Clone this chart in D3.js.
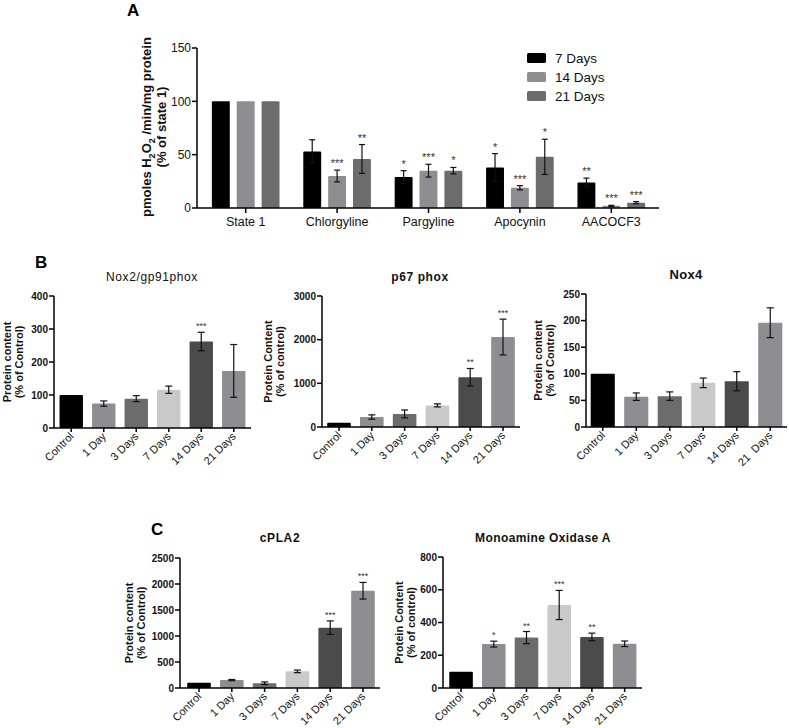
<!DOCTYPE html>
<html><head><meta charset="utf-8">
<script src="https://d3js.org/d3.v7.min.js"></script>
<style>
body{margin:0;background:#fff;}
svg{display:block;font-family:"Liberation Sans",Arial,sans-serif;}
</style></head>
<body>
<svg id="fig" width="789" height="728"></svg>
<script>
// ---------- Panel A data ----------
const aCategories = ["State 1","Chlorgyline","Pargyline","Apocynin","AACOCF3"];
const aSeries = ["7 Days","14 Days","21 Days"];
const aValues7  = [100,53,29,38,24];
const aErr7     = [0,11,6,13,4];
const aValues14 = [100,30,35,19,2];
const aErr14    = [0,5.5,6,2,0.5];
const aValues21 = [100,46,35,48,5];
const aErr21    = [0,13.5,3,16.5,1];
const aStars7   = ["","","*","*","**"];
const aStars14  = ["","***","***","***","***"];
const aStars21  = ["","**","*","*","***"];
const aTicks = [0,50,100,150];
const aColors = ["#000000","#8e8e92","#6c6c6c"];

// ---------- Panels B & C data ----------
const timeCategories = ["Control","1 Day","3 Days","7 Days","14 Days","21 Days"];
const nox4Categories = ["Control","1 Day","3 Days","7 Days","14 Days","21  Days"];
const timeColors = ["#000000","#8e8e92","#6c6c6c","#c9c9c9","#4b4b4b","#8e8e92"];

const nox2Values = [100,74,89,116,262,173];
const nox2Err    = [0,8,9,11,28,80];
const nox2Stars  = ["","","","","***",""];
const nox2Ticks  = [0,100,200,300,400];

const p67Values = [100,228,300,495,1140,2060];
const p67Err    = [0,50,90,35,200,410];
const p67Stars  = ["","","","","**","***"];
const p67Ticks  = [0,1000,2000,3000];

const nox4Values = [100,57,58,83,86,196];
const nox4Err    = [0,7,8,9,18,28];
const nox4Stars  = ["","","","","",""];
const nox4Ticks  = [0,50,100,150,200,250];

const cpla2Values = [100,152,92,320,1160,1870];
const cpla2Err    = [0,12,25,25,130,160];
const cpla2Stars  = ["","","","","***","***"];
const cpla2Ticks  = [0,500,1000,1500,2000,2500];

const maoValues = [100,268,308,507,312,270];
const maoErr    = [0,18,37,89,23,17];
const maoStars  = ["","*","**","***","**",""];
const maoTicks  = [0,200,400,600,800];

const svg = d3.select("#fig");

// ---------- helpers ----------
function errorBar(g, cx, y, v, e, cap){
  if(e<=0) return;
  g.append("line").attr("x1",cx).attr("x2",cx).attr("y1",y(v+e)).attr("y2",y(Math.max(0,v-e)))
    .attr("stroke","#111").attr("stroke-width",1.2);
  [v+e, Math.max(0,v-e)].forEach(t=>{
    g.append("line").attr("x1",cx-cap).attr("x2",cx+cap).attr("y1",y(t)).attr("y2",y(t))
      .attr("stroke","#111").attr("stroke-width",1.2);
  });
}
function star(g, cx, yy, s, fs){
  if(!s) return;
  g.append("text").attr("x",cx).attr("y",yy).attr("text-anchor","middle")
    .attr("font-size",fs).attr("fill","#333").text(s);
}
function yAxis(g, y, x0, ticks, fs, bold){
  g.append("line").attr("x1",x0).attr("x2",x0).attr("y1",y(0)).attr("y2",y(ticks[ticks.length-1]))
    .attr("stroke","#000").attr("stroke-width",1.5);
  ticks.forEach(t=>{
    g.append("line").attr("x1",x0-5).attr("x2",x0).attr("y1",y(t)).attr("y2",y(t))
      .attr("stroke","#000").attr("stroke-width",1.5);
    g.append("text").attr("x",x0-6).attr("y",y(t)).attr("dy","0.35em").attr("text-anchor","end")
      .attr("font-size",fs).attr("font-weight",bold?"bold":"normal").attr("fill","#111").text(t);
  });
}

// ---------- time-course panel ----------
function timePanel(cfg){
  const g = svg.append("g");
  const y = d3.scaleLinear().domain([0,cfg.ticks[cfg.ticks.length-1]]).range([cfg.y0,cfg.y1]);
  const x = d3.scaleBand().domain(cfg.cats).range([cfg.bx0,cfg.bx1]).paddingInner(0.28).paddingOuter(0.14);
  cfg.values.forEach((v,i)=>{
    const c = cfg.cats[i];
    g.append("rect").attr("x",x(c)).attr("y",y(v)).attr("width",x.bandwidth()).attr("height",y(0)-y(v))
      .attr("fill",timeColors[i]).attr("rx",1);
  });
  cfg.values.forEach((v,i)=>{
    const cx = x(cfg.cats[i])+x.bandwidth()/2;
    errorBar(g,cx,y,v,cfg.err[i],3.5);
    star(g,cx,y(v+cfg.err[i])-3,cfg.stars[i],9);
  });
  // x axis
  g.append("line").attr("x1",cfg.ax0).attr("x2",cfg.ax1).attr("y1",y(0)).attr("y2",y(0))
    .attr("stroke","#000").attr("stroke-width",1.5);
  cfg.cats.forEach(c=>{
    const cx = x(c)+x.bandwidth()/2;
    g.append("line").attr("x1",cx).attr("x2",cx).attr("y1",y(0)).attr("y2",y(0)+4)
      .attr("stroke","#000").attr("stroke-width",1.5);
    g.append("text").attr("transform",`translate(${cx+3},${y(0)+9}) rotate(-45)`)
      .attr("text-anchor","end").attr("font-size",11).attr("fill","#111")
      .style("white-space","pre").text(c);
  });
  yAxis(g,y,cfg.ax0,cfg.ticks,10,true);
  // title
  g.append("text").attr("x",cfg.tx).attr("y",cfg.ty).attr("text-anchor","middle")
    .attr("font-size",cfg.tfs).attr("font-weight",cfg.tbold?"bold":"normal")
    .attr("letter-spacing",cfg.tls||0).attr("fill","#111").text(cfg.title);
  // y label
  const ly = (cfg.y0+cfg.y1)/2;
  g.append("text").attr("transform",`translate(${cfg.lx},${ly}) rotate(-90)`)
    .attr("text-anchor","middle").attr("font-size",11).attr("font-weight","bold").attr("fill","#111")
    .text(cfg.ylab1);
  g.append("text").attr("transform",`translate(${cfg.lx+12},${ly}) rotate(-90)`)
    .attr("text-anchor","middle").attr("font-size",11).attr("font-weight","bold").attr("fill","#111")
    .text(cfg.ylab2);
}

// ---------- Panel A ----------
(function(){
  const g = svg.append("g");
  const y = d3.scaleLinear().domain([0,150]).range([208,48]);
  const x0 = d3.scaleBand().domain(aCategories).range([200,657]).paddingInner(0.26).paddingOuter(0.13);
  const x1 = d3.scaleBand().domain(aSeries).range([0,x0.bandwidth()]).paddingInner(0.28);
  const vals = [aValues7,aValues14,aValues21];
  const errs = [aErr7,aErr14,aErr21];
  const stars = [aStars7,aStars14,aStars21];
  aCategories.forEach((c,i)=>{
    aSeries.forEach((s,j)=>{
      const v = vals[j][i];
      g.append("rect").attr("x",x0(c)+x1(s)).attr("y",y(v)).attr("width",x1.bandwidth())
        .attr("height",y(0)-y(v)).attr("fill",aColors[j]).attr("rx",1);
    });
  });
  aCategories.forEach((c,i)=>{
    aSeries.forEach((s,j)=>{
      const v = vals[j][i], e = errs[j][i];
      const cx = x0(c)+x1(s)+x1.bandwidth()/2;
      errorBar(g,cx,y,v,e,3);
      star(g,cx,y(v+e)-3,stars[j][i],11);
    });
  });
  g.append("line").attr("x1",197).attr("x2",659).attr("y1",y(0)).attr("y2",y(0))
    .attr("stroke","#000").attr("stroke-width",1.5);
  aCategories.forEach(c=>{
    const cx = x0(c)+x0.bandwidth()/2;
    g.append("line").attr("x1",cx).attr("x2",cx).attr("y1",y(0)).attr("y2",y(0)+5)
      .attr("stroke","#000").attr("stroke-width",1.5);
    g.append("text").attr("x",cx).attr("y",y(0)+18).attr("text-anchor","middle")
      .attr("font-size",12.5).attr("fill","#111").text(c);
  });
  yAxis(g,y,197,aTicks,12,false);
  // y label
  const t1 = g.append("text").attr("transform","translate(151,127) rotate(-90)")
    .attr("text-anchor","middle").attr("font-size",13).attr("font-weight","bold").attr("fill","#111");
  t1.append("tspan").text("pmoles H");
  t1.append("tspan").attr("font-size",9).attr("dy",4).text("2");
  t1.append("tspan").attr("dy",-4).text("O");
  t1.append("tspan").attr("font-size",9).attr("dy",4).text("2");
  t1.append("tspan").attr("dy",-4).text(" /min/mg protein");
  g.append("text").attr("transform","translate(166,127) rotate(-90)")
    .attr("text-anchor","middle").attr("font-size",13).attr("font-weight","bold").attr("fill","#111")
    .text("(% of state 1)");
  // legend
  aSeries.forEach((s,j)=>{
    const ly = 58 + j*19;
    g.append("rect").attr("x",527).attr("y",ly-5).attr("width",19).attr("height",10)
      .attr("fill",aColors[j]).attr("rx",1.5);
    g.append("text").attr("x",555).attr("y",ly).attr("dy","0.35em").attr("font-size",13.5)
      .attr("fill","#111").text(s);
  });
  g.append("text").attr("x",127).attr("y",16).attr("font-size",17).attr("font-weight","bold").text("A");
})();

// ---------- Panel B ----------
svg.append("text").attr("x",35).attr("y",268).attr("font-size",17).attr("font-weight","bold").text("B");
timePanel({cats:timeCategories,values:nox2Values,err:nox2Err,stars:nox2Stars,ticks:nox2Ticks,
  y0:428,y1:296,ax0:54,ax1:251,bx0:55,bx1:250,title:"Nox2/gp91phox",tx:152,ty:281,tfs:12,tbold:false,tls:0.6,
  lx:11,ylab1:"Protein content",ylab2:"(% of Control)"});
timePanel({cats:timeCategories,values:p67Values,err:p67Err,stars:p67Stars,ticks:p67Ticks,
  y0:427,y1:296,ax0:322,ax1:520,bx0:322.6,bx1:519.4,title:"p67 phox",tx:420,ty:281,tfs:12,tbold:true,tls:0.6,
  lx:272,ylab1:"Protein Content",ylab2:"(% of control)"});
timePanel({cats:nox4Categories,values:nox4Values,err:nox4Err,stars:nox4Stars,ticks:nox4Ticks,
  y0:427,y1:294,ax0:586,ax1:787,bx0:586,bx1:787,title:"Nox4",tx:686,ty:279,tfs:13,tbold:true,tls:0.3,
  lx:542,ylab1:"Protein content",ylab2:"(% of Control)"});

// ---------- Panel C ----------
svg.append("text").attr("x",151).attr("y",535).attr("font-size",17).attr("font-weight","bold").text("C");
timePanel({cats:timeCategories,values:cpla2Values,err:cpla2Err,stars:cpla2Stars,ticks:cpla2Ticks,
  y0:688,y1:558,ax0:180,ax1:380,bx0:182.6,bx1:379.4,title:"cPLA2",tx:280,ty:542,tfs:12,tbold:true,tls:0.6,
  lx:133,ylab1:"Protein content",ylab2:"(% of Control)"});
timePanel({cats:timeCategories,values:maoValues,err:maoErr,stars:maoStars,ticks:maoTicks,
  y0:688,y1:557,ax0:443,ax1:642,bx0:444.7,bx1:641,title:"Monoamine Oxidase A",tx:543,ty:542,tfs:12,tbold:true,tls:0.4,
  lx:403,ylab1:"Protein Content",ylab2:"(% of control)"});
</script>
</body></html>
